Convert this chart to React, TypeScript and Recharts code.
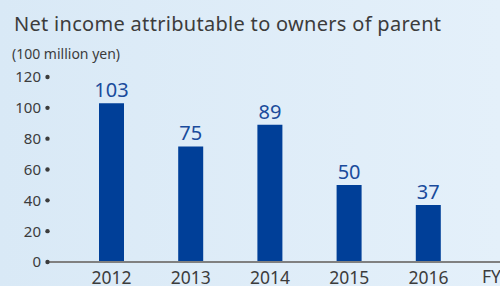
import { BarChart, Bar, XAxis, YAxis, LabelList } from 'recharts'

// ─── Datos ────────────────────────────────────────────────────────────────────

const years = ['2012', '2013', '2014', '2015', '2016']
const netIncome = [103, 75, 89, 50, 37]
const yTicks = [0, 20, 40, 60, 80, 100, 120]

const data = years.map((y, i) => ({ year: y, value: netIncome[i] }))

const FONT = '"Noto Sans", sans-serif'
const TEXT = '#3c3c3c'
const BAR = '#003f98'
const LABEL = '#1a4b9c'

function YTick({ y, payload }: { y: number; payload: { value: number } }) {
  return (
    <g>
      <text x={41} y={y} dy="0.36em" textAnchor="end" fontSize={15} fill={TEXT} fontFamily={FONT}>
        {payload.value}
      </text>
      <circle cx={47.5} cy={y} r={2.2} fill={TEXT} />
    </g>
  )
}

export default function App() {
  return (
    <div
      style={{
        position: 'fixed', left: 0, top: 0, width: 500, height: 286, overflow: 'hidden',
        background: 'linear-gradient(90deg, #d9e9f6 0%, #e4f0fa 100%)',
        fontFamily: FONT, color: TEXT,
      }}
    >
      <div style={{ position: 'absolute', left: 14, top: 14, fontSize: 20, letterSpacing: 0.3, lineHeight: 1, whiteSpace: 'nowrap' }}>
        Net income attributable to owners of parent
      </div>
      <div style={{ position: 'absolute', left: 12, top: 47, fontSize: 14, lineHeight: 1, whiteSpace: 'nowrap' }}>
        (100 million yen)
      </div>
      <div style={{ position: 'absolute', left: 482, top: 268, fontSize: 17.5, lineHeight: 1, whiteSpace: 'nowrap' }}>
        FY
      </div>
      <div style={{ position: 'absolute', left: 0, top: 0 }}>
        <BarChart width={500} height={286} data={data} margin={{ top: 77, right: 0, left: 0, bottom: 0 }} barSize={25}>
          <XAxis
            dataKey="year"
            height={24}
            padding={{ left: 25, right: 32 }}
            axisLine={{ stroke: '#808080', strokeWidth: 2 }}
            tickLine={false}
            tickMargin={4}
            tick={{ fontSize: 17.5, fill: TEXT, fontFamily: FONT }}
          />
          <YAxis
            width={47}
            domain={[0, 120]}
            ticks={yTicks}
            interval={0}
            axisLine={false}
            tickLine={false}
            tick={(p: any) => <YTick {...p} />}
          />
          <Bar dataKey="value" fill={BAR} isAnimationActive={false}>
            <LabelList dataKey="value" position="top" offset={6} fill={LABEL} fontSize={20} fontFamily={FONT} />
          </Bar>
        </BarChart>
      </div>
    </div>
  )
}
